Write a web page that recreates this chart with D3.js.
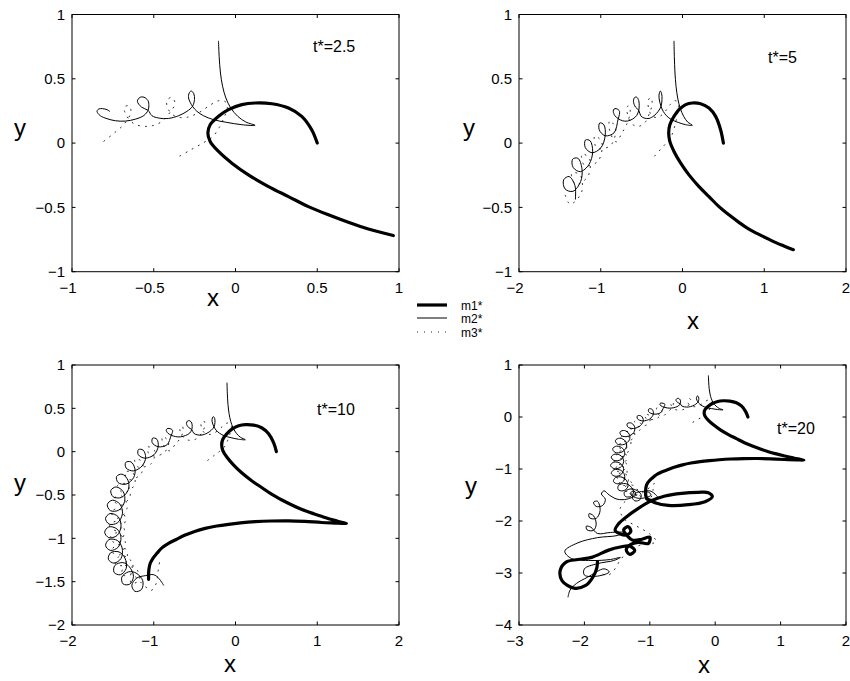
<!DOCTYPE html>
<html><head><meta charset="utf-8">
<script src="https://cdn.jsdelivr.net/npm/d3@7"></script>
<style>
body{margin:0;background:#fff}
text{font-family:"Liberation Sans",Arial,Helvetica,sans-serif;fill:#000}
</style>
</head><body>
<svg id="fig" width="850" height="681"></svg>
<script>
// Snapshot labels and axis ticks for the four panels
const tLabels = ["t*=2.5", "t*=5", "t*=10", "t*=20"];
const xTicks = [[-1,-0.5,0,0.5,1],[-2,-1,0,1,2],[-2,-1,0,1,2],[-3,-2,-1,0,1,2]];
const yTicks = [[-1,-0.5,0,0.5,1],[-1,-0.5,0,0.5,1],[-2,-1.5,-1,-0.5,0,0.5,1],[-4,-3,-2,-1,0,1]];

// Body m1* (heavy), pieces of the orbit between successive snapshots
const m1_0_25 = [[0.50,0.00],[0.466,0.104],[0.405,0.208],[0.324,0.273],[0.222,0.306],[0.120,0.312],[0.039,0.299],[-0.043,0.260],[-0.104,0.208],[-0.155,0.143],[-0.169,0.078],[-0.155,0.013],[-0.104,-0.065],[-0.022,-0.156],[0.079,-0.247],[0.202,-0.338],[0.324,-0.416],[0.446,-0.494],[0.568,-0.558],[0.690,-0.616],[0.813,-0.668],[0.965,-0.719]];
const m1_25_5 = [[1.06,-0.749],[1.15,-0.776],[1.24,-0.800],[1.30,-0.816],[1.356,-0.829]];
const m1_5_10 = [[1.25,-0.824],[1.055,-0.817],[0.85,-0.805],[0.648,-0.798],[0.44,-0.800],[0.24,-0.808],[0.06,-0.822],[-0.086,-0.838],[-0.23,-0.858],[-0.371,-0.885],[-0.50,-0.92],[-0.615,-0.962],[-0.72,-1.01],[-0.819,-1.058],[-0.90,-1.11],[-0.961,-1.173],[-1.01,-1.23],[-1.043,-1.288],[-1.058,-1.35],[-1.063,-1.404],[-1.063,-1.473]];
const m1_10_20 = [[-1.048,-1.564],[-0.920,-1.647],[-0.717,-1.699],[-0.411,-1.686],[-0.156,-1.628],[-0.044,-1.532],[-0.105,-1.455],[-0.258,-1.449],[-0.513,-1.468],[-0.768,-1.519],[-0.971,-1.609],[-1.175,-1.756],[-1.354,-1.917],[-1.481,-2.058],[-1.53,-2.18],[-1.45,-2.25],[-1.36,-2.27],[-1.29,-2.20],[-1.33,-2.11],[-1.40,-2.17],[-1.34,-2.29],[-1.26,-2.37],[-1.12,-2.35],[-1.00,-2.31],[-1.02,-2.43],[-1.18,-2.41],[-1.29,-2.45],[-1.36,-2.55],[-1.31,-2.64],[-1.23,-2.57],[-1.31,-2.48],[-1.45,-2.50],[-1.63,-2.56],[-1.889,-2.699],[-2.10,-2.74],[-2.28,-2.79],[-2.37,-2.95],[-2.34,-3.15],[-2.16,-3.29],[-1.98,-3.24],[-1.87,-3.08],[-1.81,-2.90],[-1.80,-2.78]];

// Body m2* (thin)
const m2_0_25 = [[-0.104,0.792],[-0.100,0.675],[-0.092,0.545],[-0.079,0.442],[-0.059,0.351],[-0.029,0.273],[0.014,0.208],[0.063,0.164],[0.120,0.138],[0.039,0.143],[-0.053,0.161],[-0.134,0.182],[-0.196,0.213],[-0.236,0.247],[-0.263,0.286],[-0.287,0.351],[-0.283,0.390],[-0.271,0.405],[-0.255,0.384],[-0.251,0.338],[-0.263,0.286],[-0.297,0.247],[-0.348,0.213],[-0.409,0.192],[-0.470,0.195],[-0.511,0.213],[-0.535,0.255],[-0.575,0.28],[-0.60,0.325],[-0.585,0.355],[-0.56,0.357],[-0.535,0.33],[-0.53,0.29],[-0.535,0.255],[-0.56,0.215],[-0.61,0.187],[-0.674,0.171],[-0.735,0.174],[-0.786,0.19],[-0.827,0.213],[-0.847,0.247],[-0.837,0.265],[-0.813,0.268],[-0.786,0.26],[-0.77,0.247]];
const m2_25_5 = [[-0.772,0.222],[-0.788,0.185],
  [-0.837,0.080],[-0.946,0.057],[-1.019,0.104],[-1.012,0.157],[-0.961,0.142],[-0.946,0.057],
  [-0.998,-0.036],[-1.107,-0.075],[-1.189,-0.035],[-1.187,0.024],[-1.130,0.018],[-1.099,-0.068],
  [-1.144,-0.166],[-1.249,-0.222],[-1.338,-0.189],[-1.344,-0.125],[-1.279,-0.118],[-1.230,-0.199],
  [-1.246,-0.299],[-1.340,-0.375],[-1.437,-0.356],[-1.454,-0.286],[-1.387,-0.260],[-1.316,-0.329],
  [-1.310,-0.436]];
const m2_5_10 = [
  [-1.393,-0.527],[-1.496,-0.521],[-1.525,-0.448],[-1.459,-0.407],[-1.372,-0.464],
  [-1.357,-0.575],[-1.428,-0.675],[-1.531,-0.680],[-1.568,-0.610],[-1.507,-0.560],[-1.414,-0.605],
  [-1.383,-0.715],[-1.444,-0.821],[-1.546,-0.836],[-1.590,-0.770],[-1.534,-0.714],[-1.437,-0.749],
  [-1.400,-0.857],[-1.450,-0.968],[-1.550,-0.992],[-1.600,-0.930],[-1.550,-0.868],[-1.450,-0.892],
  [-1.401,-0.986],[-1.435,-1.102],[-1.531,-1.139],[-1.589,-1.084],[-1.548,-1.015],[-1.446,-1.024],
  [-1.387,-1.111],[-1.400,-1.232],[-1.488,-1.286],[-1.555,-1.242],[-1.527,-1.166],[-1.425,-1.157],
  [-1.353,-1.227],[-1.337,-1.347],[-1.409,-1.420],[-1.485,-1.393],[-1.476,-1.313],[-1.378,-1.280],
  [-1.299,-1.328],[-1.248,-1.438],[-1.295,-1.529],[-1.375,-1.526],[-1.390,-1.447],[-1.307,-1.386],
  [-1.216,-1.401],[-1.134,-1.490],[-1.151,-1.591],[-1.229,-1.612],[-1.268,-1.541],[-1.207,-1.458],
  [-1.10,-1.43],[-1.00,-1.42],[-0.94,-1.46],[-0.90,-1.51],[-0.88,-1.54]];
const m2_10_20 = [[-0.93,-1.58],[-1.02,-1.57],[-1.08,-1.50],[-1.03,-1.44],[-0.98,-1.50],[-1.10,-1.56],[-1.22,-1.55],[-1.30,-1.47],[-1.24,-1.42],[-1.22,-1.50],[-1.35,-1.58],[-1.50,-1.58],[-1.62,-1.50],[-1.70,-1.42],[-1.74,-1.48],[-1.68,-1.58],[-1.72,-1.70],[-1.82,-1.72],[-1.86,-1.64],[-1.80,-1.62],[-1.76,-1.80],[-1.82,-1.95],[-1.92,-1.94],[-1.93,-1.86],[-1.86,-1.90],[-1.82,-2.06],[-1.86,-2.18],[-1.96,-2.17],[-1.97,-2.10],[-1.90,-2.12],[-1.80,-2.24],[-1.60,-2.22],[-1.38,-2.22],[-1.50,-2.28],[-1.80,-2.32],[-2.10,-2.42],[-2.30,-2.58],[-2.20,-2.72],[-1.90,-2.76],[-1.60,-2.74],[-1.45,-2.70],[-1.55,-2.76],[-1.80,-2.82],[-2.00,-2.92],[-2.00,-3.04],[-1.80,-3.06],[-1.62,-2.98],[-1.70,-2.92],[-1.95,-3.08],[-2.12,-3.20],[-2.22,-3.33],[-2.25,-3.46]];

// Body m3* (dotted)
const m3_0_25 = [[-0.34,-0.10],[-0.27,-0.05],[-0.20,0.00],[-0.14,0.05],[-0.10,0.12],[-0.07,0.20],[-0.05,0.27],[-0.06,0.32],[-0.10,0.33],[-0.15,0.30],[-0.22,0.24],[-0.30,0.20],[-0.37,0.21],[-0.41,0.26],[-0.42,0.33],[-0.39,0.355],[-0.37,0.31],[-0.40,0.24],[-0.46,0.16],[-0.54,0.13],[-0.62,0.15],[-0.67,0.22],[-0.68,0.28],[-0.65,0.29],[-0.64,0.24],[-0.68,0.15],[-0.74,0.08],[-0.81,0.01]];
const m3_25_5 = [[-0.884,0.079],[-0.893,0.176],[-0.818,0.113],
  [-0.882,-0.020],[-1.049,-0.038],[-1.075,0.056],[-0.989,0.010],
  [-1.033,-0.140],[-1.196,-0.175],[-1.232,-0.083],[-1.140,-0.119],
  [-1.157,-0.258],[-1.305,-0.322],[-1.356,-0.234],[-1.255,-0.244],
  [-1.236,-0.384],[-1.374,-0.475],[-1.442,-0.389]];
const m3_5_10 = [[-1.334,-0.373],
  [-1.290,-0.517],[-1.416,-0.622],[-1.494,-0.544],[-1.388,-0.514],
  [-1.326,-0.649],[-1.438,-0.769],[-1.524,-0.700],[-1.422,-0.656],
  [-1.345,-0.790],[-1.449,-0.915],[-1.540,-0.852],[-1.441,-0.801],
  [-1.355,-0.919],[-1.441,-1.056],[-1.540,-1.003],[-1.449,-0.936],
  [-1.348,-1.040],[-1.414,-1.188],[-1.519,-1.150],[-1.438,-1.072],
  [-1.329,-1.149],[-1.360,-1.308],[-1.471,-1.294],[-1.410,-1.200],
  [-1.287,-1.248],[-1.278,-1.409],[-1.390,-1.423],[-1.354,-1.317],
  [-1.237,-1.325],[-1.173,-1.473],[-1.273,-1.524],[-1.277,-1.411],
  [-1.10,-1.56],[-1.03,-1.60],[-0.97,-1.52],[-0.95,-1.40],[-0.93,-1.28]];
const m3_10_20 = [[-0.98,-1.33],[-1.10,-1.45],[-1.30,-1.55],[-1.45,-1.75],[-1.40,-1.95],[-1.20,-2.10],[-1.00,-2.25],[-0.90,-2.40],[-1.10,-2.45],[-1.30,-2.55],[-1.45,-2.75],[-1.55,-2.95],[-1.65,-3.05],[-1.75,-3.00]];

const m1Pieces = [m1_0_25, m1_25_5, m1_5_10, m1_10_20];
const m2Pieces = [m2_0_25, m2_25_5, m2_5_10, m2_10_20];
const m3Pieces = [m3_0_25, m3_25_5, m3_5_10, m3_10_20];

const legendNames = ["m1*", "m2*", "m3*"];

// ---- layout ----
const svg = d3.select("#fig");
const boxes = [
  {x0:72, x1:399, y0:14.5, y1:271.7, tx:313, ty:51.5, lx:213, lxy:306, ly:20, lyy:136},
  {x0:519, x1:846, y0:14.5, y1:271.7, tx:768, ty:63, lx:693, lxy:329, ly:469, lyy:136},
  {x0:72, x1:399, y0:365, y1:625, tx:317, ty:414.5, lx:230, lxy:672, ly:20, lyy:491},
  {x0:519, x1:846, y0:365, y1:625, tx:777, ty:434, lx:704, lxy:673, ly:471, lyy:494}
];
const styles = [
  {w:3.2, dash:null, color:"#000"},
  {w:1.0, dash:null, color:"#000"},
  {w:1.0, dash:"1,6", color:"#222"}
];
const fmt = v => (v < 0 ? "\u2212" : "") + String(Math.abs(v));

boxes.forEach((b, k) => {
  const xs = xTicks[k], ys = yTicks[k];
  const x = d3.scaleLinear().domain([xs[0], xs[xs.length-1]]).range([b.x0, b.x1]);
  const y = d3.scaleLinear().domain([ys[0], ys[ys.length-1]]).range([b.y1, b.y0]);
  const g = svg.append("g");
  const clipId = "clip" + k;
  svg.append("clipPath").attr("id", clipId).append("rect")
    .attr("x", b.x0).attr("y", b.y0).attr("width", b.x1-b.x0).attr("height", b.y1-b.y0);

  const line = d3.line().x(d => x(d[0])).y(d => y(d[1])).curve(d3.curveCatmullRom.alpha(0.5));
  const plot = g.append("g").attr("clip-path", `url(#${clipId})`);
  [m3Pieces, m2Pieces, m1Pieces].forEach((pieces, j) => {
    const st = styles[2-j];
    const pts = [].concat(...pieces.slice(0, k+1));
    plot.append("path").attr("d", line(pts)).attr("fill","none")
      .attr("stroke", st.color).attr("stroke-width", st.w)
      .attr("stroke-dasharray", st.dash).attr("stroke-linejoin","round").attr("stroke-linecap","round");
  });

  // box with inward ticks on all sides
  g.append("rect").attr("x", b.x0).attr("y", b.y0).attr("width", b.x1-b.x0).attr("height", b.y1-b.y0)
    .attr("fill","none").attr("stroke","#000").attr("stroke-width",1);
  const tl = 3.5;
  xs.forEach(v => {
    g.append("line").attr("x1", x(v)).attr("x2", x(v)).attr("y1", b.y1).attr("y2", b.y1-tl).attr("stroke","#000");
    g.append("line").attr("x1", x(v)).attr("x2", x(v)).attr("y1", b.y0).attr("y2", b.y0+tl).attr("stroke","#000");
    g.append("text").attr("x", x(v) - (v < 0 ? 4 : 0)).attr("y", b.y1 + 21).attr("text-anchor","middle")
      .attr("font-size", 15).text(fmt(v));
  });
  ys.forEach(v => {
    g.append("line").attr("x1", b.x0).attr("x2", b.x0+tl).attr("y1", y(v)).attr("y2", y(v)).attr("stroke","#000");
    g.append("line").attr("x1", b.x1).attr("x2", b.x1-tl).attr("y1", y(v)).attr("y2", y(v)).attr("stroke","#000");
    g.append("text").attr("x", b.x0 - 7).attr("y", y(v) + 5.3).attr("text-anchor","end")
      .attr("font-size", 15).text(fmt(v));
  });
  g.append("text").attr("x", b.lx).attr("y", b.lxy).attr("text-anchor","middle")
    .attr("font-size", 24).text("x");
  g.append("text").attr("x", b.ly).attr("y", b.lyy).attr("text-anchor","middle")
    .attr("font-size", 24).text("y");
  g.append("text").attr("x", b.tx).attr("y", b.ty).attr("font-size", 16).text(tLabels[k]);
});

// legend between the panels
const lg = svg.append("g");
const legY = [305, 318, 332];
legendNames.forEach((name, i) => {
  const st = styles[i];
  lg.append("line").attr("x1", 417).attr("x2", 447).attr("y1", legY[i]).attr("y2", legY[i])
    .attr("stroke", st.color).attr("stroke-width", st.w).attr("stroke-dasharray", st.dash);
  lg.append("text").attr("x", 461).attr("y", legY[i] + 4.5).attr("font-size", 12).text(name);
});
</script>
</body></html>
